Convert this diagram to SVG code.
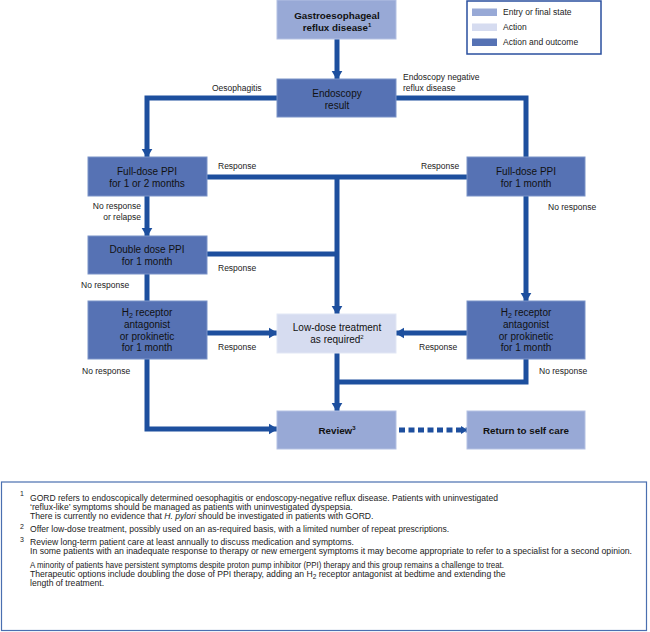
<svg xmlns="http://www.w3.org/2000/svg" width="650" height="632" viewBox="0 0 650 632">
<defs>
<style>
.entry{fill:#98a9d6;stroke:#b4c1e3;stroke-width:1}
.action{fill:#d6dcf0;stroke:#e2e7f5;stroke-width:1}
.outcome{fill:#5672b4;stroke:#7b93c8;stroke-width:1}
.nt{font-family:"Liberation Sans",Arial,sans-serif;font-size:10px;fill:#111;text-anchor:middle}
.bt{font-family:"Liberation Sans",Arial,sans-serif;font-size:9.8px;font-weight:bold;fill:#111;text-anchor:middle}
.lbl{font-family:"Liberation Sans",Arial,sans-serif;font-size:8.5px;fill:#222}
.fn{font-family:"Liberation Sans",Arial,sans-serif;font-size:8.6px;fill:#222}
.sup{font-family:"Liberation Sans",Arial,sans-serif;font-size:7px;fill:#222}
.ln{fill:none;stroke:#1d4f9e;stroke-width:5;stroke-linejoin:miter}
</style>
<marker id="ah" viewBox="0 0 10 12" refX="9" refY="6" markerWidth="9" markerHeight="12" markerUnits="userSpaceOnUse" orient="auto">
<path d="M0,0 L10,6 L0,12 z" fill="#1d4f9e"/>
</marker>
<marker id="ahs" viewBox="0 0 10 12" refX="9" refY="6" markerWidth="7" markerHeight="10" markerUnits="userSpaceOnUse" orient="auto">
<path d="M0,0 L10,6 L0,12 z" fill="#1d4f9e"/>
</marker>
</defs>
<rect width="650" height="632" fill="#fff"/>

<g id="connectors">
<line class="ln" x1="337" y1="39" x2="337" y2="79" marker-end="url(#ah)"/>
<polyline class="ln" points="277,98 147,98 147,157" marker-end="url(#ah)"/>
<polyline class="ln" points="396,98 526,98 526,157"/>
<line class="ln" x1="207" y1="177" x2="467" y2="177"/>
<line class="ln" x1="337" y1="177" x2="337" y2="314" marker-end="url(#ah)"/>
<line class="ln" x1="207" y1="254" x2="337" y2="254"/>
<line class="ln" x1="147" y1="196" x2="147" y2="236" marker-end="url(#ah)"/>
<line class="ln" x1="147" y1="274" x2="147" y2="301"/>
<line class="ln" x1="207" y1="333" x2="277" y2="333" marker-end="url(#ah)"/>
<polyline class="ln" points="147,359 147,429 277,429" marker-end="url(#ah)"/>
<line class="ln" x1="526" y1="196" x2="526" y2="301" marker-end="url(#ah)"/>
<line class="ln" x1="467" y1="333" x2="396" y2="333" marker-end="url(#ah)"/>
<polyline class="ln" points="526,359 526,382 337,382"/>
<line class="ln" x1="337" y1="353" x2="337" y2="411" marker-end="url(#ah)"/>
<line class="ln" x1="399" y1="430" x2="467" y2="430" stroke-dasharray="6,3.5" marker-end="url(#ahs)"/>
</g>

<g id="labels">
<text class="lbl" x="212" y="91">Oesophagitis</text>
<text class="lbl" x="403" y="80">Endoscopy negative</text>
<text class="lbl" x="403" y="91">reflux disease</text>
<text class="lbl" x="218" y="169">Response</text>
<text class="lbl" x="421" y="169">Response</text>
<text class="lbl" x="548" y="210">No response</text>
<text class="lbl" x="141" y="209" text-anchor="end">No response</text>
<text class="lbl" x="141" y="220" text-anchor="end">or relapse</text>
<text class="lbl" x="218" y="271">Response</text>
<text class="lbl" x="81" y="288">No response</text>
<text class="lbl" x="218" y="350">Response</text>
<text class="lbl" x="419" y="350">Response</text>
<text class="lbl" x="82" y="374">No response</text>
<text class="lbl" x="539" y="374">No response</text>
</g>

<g id="n-gerd">
<rect class="entry" x="277" y="0" width="119" height="39"/>
<text class="bt" x="337" y="19">Gastroesophageal</text>
<text class="bt" x="337" y="31">reflux disease<tspan font-size="6" dy="-4">1</tspan></text>
</g>
<g id="n-endoscopy">
<rect class="outcome" x="277" y="79" width="119" height="38"/>
<text class="nt" x="337" y="97">Endoscopy</text>
<text class="nt" x="337" y="109">result</text>
</g>
<g id="n-ppi-left">
<rect class="outcome" x="88" y="157" width="119" height="39"/>
<text class="nt" x="147" y="175">Full-dose PPI</text>
<text class="nt" x="147" y="187">for 1 or 2 months</text>
</g>
<g id="n-ppi-right">
<rect class="outcome" x="467" y="157" width="118" height="39"/>
<text class="nt" x="526" y="175">Full-dose PPI</text>
<text class="nt" x="526" y="187">for 1 month</text>
</g>
<g id="n-double">
<rect class="outcome" x="88" y="236" width="119" height="38"/>
<text class="nt" x="147" y="253">Double dose PPI</text>
<text class="nt" x="147" y="265">for 1 month</text>
</g>
<g id="n-h2-left">
<rect class="outcome" x="88" y="301" width="119" height="58"/>
<text class="nt" x="147" y="316">H<tspan font-size="7" dy="2">2</tspan><tspan dy="-2"> receptor</tspan></text>
<text class="nt" x="147" y="328">antagonist</text>
<text class="nt" x="147" y="339.5">or prokinetic</text>
<text class="nt" x="147" y="351">for 1 month</text>
</g>
<g id="n-lowdose">
<rect class="action" x="277" y="314" width="119" height="39"/>
<text class="nt" x="337" y="331">Low-dose treatment</text>
<text class="nt" x="337" y="343">as required<tspan font-size="6" dy="-4">2</tspan></text>
</g>
<g id="n-h2-right">
<rect class="outcome" x="467" y="301" width="118" height="58"/>
<text class="nt" x="526" y="316">H<tspan font-size="7" dy="2">2</tspan><tspan dy="-2"> receptor</tspan></text>
<text class="nt" x="526" y="328">antagonist</text>
<text class="nt" x="526" y="339.5">or prokinetic</text>
<text class="nt" x="526" y="351">for 1 month</text>
</g>
<g id="n-review">
<rect class="entry" x="277" y="411" width="119" height="38"/>
<text class="bt" x="337" y="434">Review<tspan font-size="6" dy="-4">3</tspan></text>
</g>
<g id="n-return">
<rect class="entry" x="467" y="411" width="118" height="38"/>
<text class="bt" x="526" y="434">Return to self care</text>
</g>

<g id="legend">
<rect x="467" y="1" width="134" height="53" fill="#fff" stroke="#2a4f9f" stroke-width="1.5"/>
<rect x="472" y="8.5" width="25" height="7.5" fill="#98a9d6"/>
<rect x="472" y="23.5" width="25" height="7.5" fill="#d6dcf0"/>
<rect x="472" y="38.5" width="25" height="7.5" fill="#5672b4"/>
<text class="lbl" x="503" y="15">Entry or final state</text>
<text class="lbl" x="503" y="30">Action</text>
<text class="lbl" x="503" y="45">Action and outcome</text>
</g>

<g id="footnotes">
<rect x="1.5" y="482" width="645" height="148.5" fill="#fff" stroke="#4a6fb0" stroke-width="1.2"/>
<text class="sup" x="20" y="496">1</text>
<text class="sup" x="20" y="529">2</text>
<text class="sup" x="20" y="542">3</text>
<text class="fn" x="30" y="501" textLength="468" lengthAdjust="spacingAndGlyphs">GORD refers to endoscopically determined oesophagitis or endoscopy-negative reflux disease. Patients with uninvestigated</text>
<text class="fn" x="30" y="510">‘reflux-like’ symptoms should be managed as patients with uninvestigated dyspepsia.</text>
<text class="fn" x="30" y="519">There is currently no evidence that <tspan font-style="italic">H. pylori</tspan> should be investigated in patients with GORD.</text>
<text class="fn" x="30" y="532">Offer low-dose treatment, possibly used on an as-required basis, with a limited number of  repeat prescriptions.</text>
<text class="fn" x="30" y="545">Review long-term patient care at least annually to discuss medication and symptoms.</text>
<text class="fn" x="30" y="554" textLength="602" lengthAdjust="spacingAndGlyphs">In some patients with an inadequate response to therapy or new emergent symptoms it may become appropriate to refer to a specialist for a second opinion.</text>
<text class="fn" x="30" y="568" textLength="474" lengthAdjust="spacingAndGlyphs">A minority of patients have persistent symptoms despite proton pump inhibitor (PPI) therapy and this group remains a challenge to treat.</text>
<text class="fn" x="30" y="577">Therapeutic options include doubling the dose of PPI therapy, adding an H<tspan font-size="6.5" dy="2">2</tspan><tspan dy="-2"> receptor antagonist at bedtime and extending the</tspan></text>
<text class="fn" x="30" y="586">length of treatment.</text>
</g>
</svg>
